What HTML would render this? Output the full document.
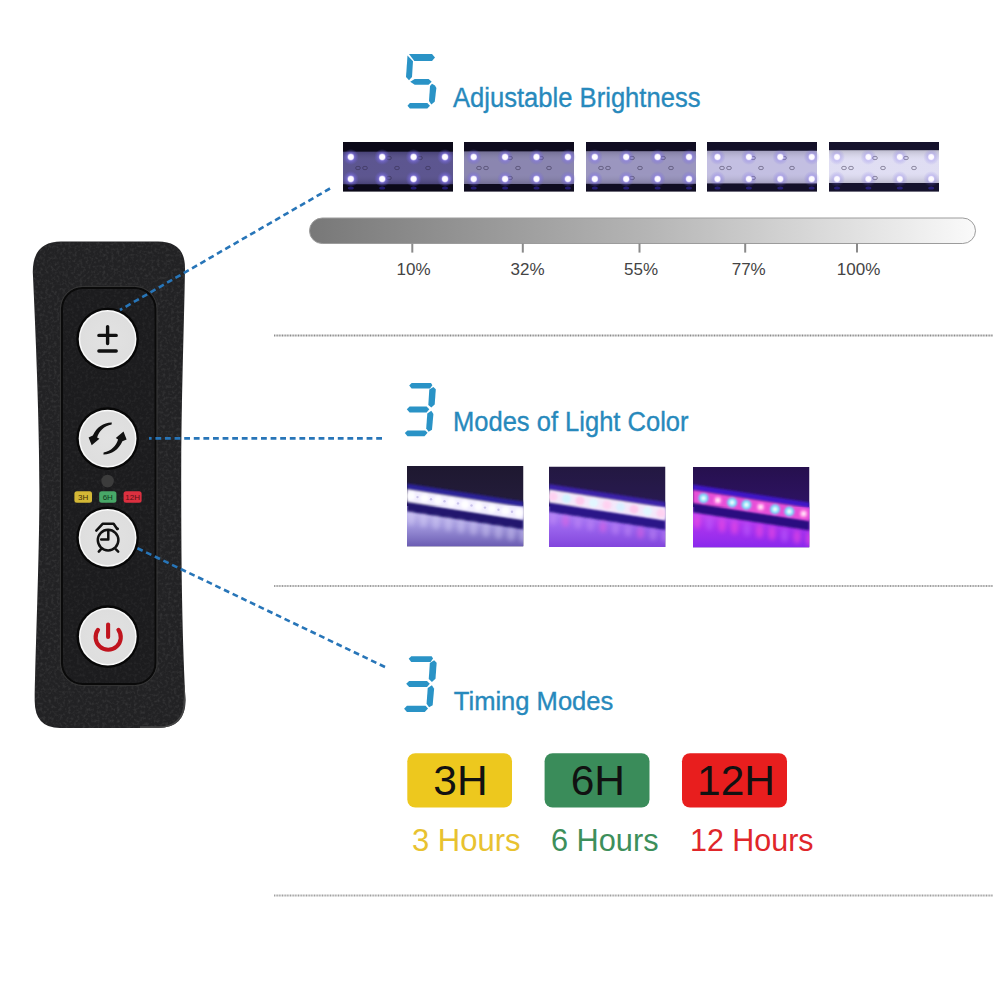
<!DOCTYPE html>
<html><head><meta charset="utf-8">
<style>
html,body{margin:0;padding:0;background:#fff;width:1000px;height:1000px;overflow:hidden}
svg{display:block}
text{font-family:"Liberation Sans",sans-serif}
</style></head>
<body>
<svg width="1000" height="1000" viewBox="0 0 1000 1000">
<defs>
  <linearGradient id="barg" x1="0" x2="1" y1="0" y2="0">
    <stop offset="0" stop-color="#787878"/>
    <stop offset="0.5" stop-color="#b4b4b4"/>
    <stop offset="1" stop-color="#fafafa"/>
  </linearGradient>
  <radialGradient id="ledhalo" cx="0.5" cy="0.5" r="0.5">
    <stop offset="0" stop-color="#b8b0ff"/>
    <stop offset="0.4" stop-color="#8a7cf0" stop-opacity="0.8"/>
    <stop offset="1" stop-color="#6a5ce0" stop-opacity="0"/>
  </radialGradient>
  <radialGradient id="ledcore" cx="0.5" cy="0.5" r="0.5">
    <stop offset="0" stop-color="#ffffff"/>
    <stop offset="0.7" stop-color="#fbf8ff"/>
    <stop offset="1" stop-color="#e0d8ff" stop-opacity="0.6"/>
  </radialGradient>
  <radialGradient id="led" cx="0.5" cy="0.5" r="0.5">
    <stop offset="0" stop-color="#ffffff"/>
    <stop offset="0.45" stop-color="#f4f0ff"/>
    <stop offset="0.7" stop-color="#a89cf0" stop-opacity="0.6"/>
    <stop offset="1" stop-color="#8070e0" stop-opacity="0"/>
  </radialGradient>
  <linearGradient id="stripshade" x1="0" x2="0" y1="0" y2="1">
    <stop offset="0" stop-color="#000" stop-opacity="0.15"/>
    <stop offset="0.3" stop-color="#fff" stop-opacity="0.05"/>
    <stop offset="0.7" stop-color="#fff" stop-opacity="0.05"/>
    <stop offset="1" stop-color="#000" stop-opacity="0.15"/>
  </linearGradient>
  <linearGradient id="glow1" x1="0" x2="0" y1="0" y2="1">
    <stop offset="0" stop-color="#d0c8f6"/>
    <stop offset="0.5" stop-color="#a096dc"/>
    <stop offset="1" stop-color="#6a5cb2"/>
  </linearGradient>
  <linearGradient id="glow2" x1="0" x2="0" y1="0" y2="1">
    <stop offset="0" stop-color="#b68cf6"/>
    <stop offset="0.5" stop-color="#9c66ee"/>
    <stop offset="1" stop-color="#8246dc"/>
  </linearGradient>
  <linearGradient id="glow3" x1="0" x2="0" y1="0" y2="1">
    <stop offset="0" stop-color="#d050f2"/>
    <stop offset="0.5" stop-color="#aa34ee"/>
    <stop offset="1" stop-color="#8a28ec"/>
  </linearGradient>
  <linearGradient id="top1" x1="0" x2="0" y1="0" y2="1">
    <stop offset="0" stop-color="#1e1830"/>
    <stop offset="1" stop-color="#2a2148"/>
  </linearGradient>
  <linearGradient id="top2" x1="0" x2="0" y1="0" y2="1">
    <stop offset="0" stop-color="#231841"/>
    <stop offset="1" stop-color="#2e1c62"/>
  </linearGradient>
  <linearGradient id="top3" x1="0" x2="0" y1="0" y2="1">
    <stop offset="0" stop-color="#26104e"/>
    <stop offset="1" stop-color="#36167a"/>
  </linearGradient>
  <filter id="blur1" x="-20%" y="-20%" width="140%" height="140%"><feGaussianBlur stdDeviation="1"/></filter>
  <filter id="blur2" x="-50%" y="-50%" width="200%" height="200%"><feGaussianBlur stdDeviation="2"/></filter>
  <clipPath id="c1"><rect x="0" y="0" width="116.5" height="80.5"/></clipPath>
  <radialGradient id="btn" cx="0.5" cy="0.5" r="0.5">
    <stop offset="0" stop-color="#e2e2e2"/>
    <stop offset="1" stop-color="#dedede"/>
  </radialGradient>
  <filter id="noise" x="0" y="0" width="100%" height="100%">
    <feTurbulence type="fractalNoise" baseFrequency="0.35" numOctaves="2" seed="7" result="t"/>
    <feColorMatrix in="t" type="matrix" values="0 0 0 0 0.23  0 0 0 0 0.23  0 0 0 0 0.23  0 0 0 -2.2 1.25"/>
  </filter>
  <clipPath id="rclip"><use href="#rbody"/></clipPath>
  <clipPath id="pclip"><rect x="63" y="289" width="91.5" height="394" rx="20"/></clipPath>
</defs>

<!-- separators -->
<line x1="274" y1="335.5" x2="993" y2="335.5" stroke="#8c8c8c" stroke-width="2" stroke-dasharray="1 0.6"/>
<line x1="274" y1="586" x2="993" y2="586" stroke="#a0a0a0" stroke-width="2" stroke-dasharray="1 0.6"/>
<line x1="274" y1="895.5" x2="993" y2="895.5" stroke="#a0a0a0" stroke-width="2" stroke-dasharray="1 0.6"/>

<!-- REMOTE -->
<path id="rbody" d="M61,241.5 L158,241.5 Q185,241.5 185,268 C184,330 181.2,400 181.2,480 C181.2,580 182.5,640 185.5,700 Q185.5,728 158,728 L60,728 Q34.7,728 34.7,701 C35,660 39.4,560 39.4,490 C39.4,420 35.5,330 32.8,272 Q32.8,241.5 61,241.5 Z" fill="#222224"/>
<rect x="0" y="240" width="190" height="490" fill="#000" filter="url(#noise)" clip-path="url(#rclip)" opacity="0.2"/>
<!-- bevel bottom-right -->
<path d="M185.5,685 L185.5,700 Q185.5,728 158,728 L140,728" fill="none" stroke="#4a4a4a" stroke-width="3.4" opacity="0.85" clip-path="url(#rclip)"/>
<!-- inner panel -->
<rect x="62" y="288" width="93.5" height="396" rx="21" fill="#1c1c1e" stroke="#0a0a0a" stroke-width="2"/>
<rect x="60.4" y="286.4" width="96.7" height="399.2" rx="22.5" fill="none" stroke="#363636" stroke-width="1"/>
<rect x="60" y="285" width="100" height="402" fill="#000" filter="url(#noise)" clip-path="url(#pclip)" opacity="0.12"/>

<!-- buttons -->
<g>
  <circle cx="107.6" cy="339" r="31.3" fill="#070707"/>
  <circle cx="107.6" cy="339" r="28.9" fill="#fafafa"/>
  <circle cx="107.6" cy="339" r="27.4" fill="url(#btn)"/>
  <circle cx="107.6" cy="438.6" r="31.3" fill="#070707"/>
  <circle cx="107.6" cy="438.6" r="28.9" fill="#fafafa"/>
  <circle cx="107.6" cy="438.6" r="27.4" fill="url(#btn)"/>
  <circle cx="107.6" cy="537.8" r="31.3" fill="#070707"/>
  <circle cx="107.6" cy="537.8" r="28.9" fill="#fafafa"/>
  <circle cx="107.6" cy="537.8" r="27.4" fill="url(#btn)"/>
  <circle cx="107.8" cy="636.6" r="31.3" fill="#070707"/>
  <circle cx="107.8" cy="636.6" r="28.9" fill="#fafafa"/>
  <circle cx="107.8" cy="636.6" r="27.4" fill="url(#btn)"/>
</g>
<!-- plus/minus -->
<g stroke="#111" stroke-width="3.4" stroke-linecap="round" fill="none">
  <path d="M98.9,335.4 L116.2,335.4 M107.6,326.6 L107.6,343.6 M98.9,351 L116.2,351"/>
</g>
<!-- refresh icon -->
<g fill="#111">
  <path id="arrU" d="M111.8,422.4 C104,422.2 96.5,427 92.8,435.6 L88.6,437.4 L91.7,445.3 L99.4,438.7 L97.1,437.4 C99,431 104,425.9 111.6,424.4 Z"/>
  <use href="#arrU" transform="rotate(180 107.6 438.4)"/>
</g>
<!-- clock icon -->
<g fill="none" stroke="#111" stroke-width="2.5" stroke-linecap="round" stroke-linejoin="round">
  <circle cx="108.1" cy="540.1" r="10.3"/>
  <path d="M96.3,530.6 L102.6,523.8 L113.6,523.8 L117.2,529"/>
  <path d="M108.3,530.5 L108.3,539.6 L101.2,539.6"/>
  <path d="M100.8,549.4 L98.8,551.6 M116,549.4 L118.2,551.6"/>
  <circle cx="117.6" cy="528.8" r="1.4" fill="#111" stroke="none"/>
</g>
<!-- power icon -->
<g fill="none" stroke="#c0141e" stroke-width="4.1" stroke-linecap="round">
  <path d="M98,629.8 A12.6,12.6 0 1 0 118.4,629.8"/>
  <path d="M108.1,624.6 L108.1,637"/>
</g>

<!-- LED dot + labels -->
<circle cx="107.6" cy="481" r="6.3" fill="#3c3c3c"/>
<rect x="74.4" y="491.2" width="17.6" height="11.6" rx="2.5" fill="#d4b836"/>
<rect x="99.2" y="491.2" width="17.2" height="11.6" rx="2.5" fill="#48a868"/>
<rect x="123.6" y="491.2" width="18" height="11.6" rx="2.5" fill="#dc3040"/>
<g font-size="8" fill="#2a2000">
  <text x="83.2" y="500" text-anchor="middle" fill="#3a2e08">3H</text>
  <text x="107.8" y="500" text-anchor="middle" fill="#0f3a1c">6H</text>
  <text x="132.6" y="500" text-anchor="middle" fill="#5a1014">12H</text>
</g>

<!-- blue dashed lines -->
<g stroke="#2775b8" stroke-width="2.6" stroke-dasharray="5.8 3.8" fill="none">
  <line x1="330" y1="188.5" x2="120" y2="310"/>
  <line x1="382" y1="438.4" x2="149" y2="438.4"/>
  <line x1="385" y1="667" x2="137.4" y2="548.2"/>
</g>

<!-- SECTION 1 -->
<g fill="#2a93c6">
  <polygon points="409,54.1 432,54.1 435,57.5 432,60.9 414.3,60.9"/>
  <polygon points="407.5,55.5 413,61.3 412,77 409,80.3 406,77"/>
  <polygon points="410.2,81.7 414.7,79 428.6,79 431.7,81.7 428.6,84.7 414.7,84.7"/>
  <polygon points="432,83.7 435,85.4 436.4,88.1 434.7,101.7 431.3,104.5 429,101 430,86"/>
  <polygon points="407.5,105.8 409.9,103.1 427.3,103.1 430,105.8 427.3,108.5 409.9,108.5"/>
</g>
<text x="453" y="107" font-size="27" fill="#2789bc" stroke="#2789bc" stroke-width="0.35" textLength="247.5" lengthAdjust="spacingAndGlyphs">Adjustable Brightness</text>

<!-- strips -->
<g id="strips">
<g transform="translate(343,142)">
<rect x="0" y="0" width="110" height="49.6" fill="#0b0918"/>
<rect x="0" y="9.7" width="110" height="32.5" fill="#544d8a"/>
<rect x="0" y="9.7" width="110" height="32.5" fill="url(#stripshade)"/>
<ellipse cx="22" cy="26" rx="2.4" ry="1.7" fill="none" stroke="#2a2440" stroke-width="0.9" opacity="0.5"/>
<ellipse cx="54" cy="26" rx="2.4" ry="1.7" fill="none" stroke="#2a2440" stroke-width="0.9" opacity="0.5"/>
<ellipse cx="85" cy="26" rx="2.4" ry="1.7" fill="none" stroke="#2a2440" stroke-width="0.9" opacity="0.5"/>
<ellipse cx="46" cy="16" rx="2.4" ry="1.7" fill="none" stroke="#2a2440" stroke-width="0.9" opacity="0.5"/>
<ellipse cx="46" cy="36" rx="2.4" ry="1.7" fill="none" stroke="#2a2440" stroke-width="0.9" opacity="0.5"/>
<ellipse cx="77" cy="16" rx="2.4" ry="1.7" fill="none" stroke="#2a2440" stroke-width="0.9" opacity="0.5"/>
<ellipse cx="15" cy="26" rx="2.4" ry="1.7" fill="none" stroke="#2a2440" stroke-width="0.9" opacity="0.5"/>
<circle cx="7.8" cy="15" r="8" fill="url(#ledhalo)" opacity="0.85"/>
<circle cx="7.8" cy="15" r="3.4" fill="url(#ledcore)"/>
<circle cx="7.8" cy="37" r="8" fill="url(#ledhalo)" opacity="0.85"/>
<circle cx="7.8" cy="37" r="3.4" fill="url(#ledcore)"/>
<ellipse cx="7.8" cy="46" rx="3" ry="1.6" fill="#3a2cc0" opacity="0.5"/>
<circle cx="39.2" cy="15" r="8" fill="url(#ledhalo)" opacity="0.85"/>
<circle cx="39.2" cy="15" r="3.4" fill="url(#ledcore)"/>
<circle cx="39.2" cy="37" r="8" fill="url(#ledhalo)" opacity="0.85"/>
<circle cx="39.2" cy="37" r="3.4" fill="url(#ledcore)"/>
<ellipse cx="39.2" cy="46" rx="3" ry="1.6" fill="#3a2cc0" opacity="0.5"/>
<circle cx="70.6" cy="15" r="8" fill="url(#ledhalo)" opacity="0.85"/>
<circle cx="70.6" cy="15" r="3.4" fill="url(#ledcore)"/>
<circle cx="70.6" cy="37" r="8" fill="url(#ledhalo)" opacity="0.85"/>
<circle cx="70.6" cy="37" r="3.4" fill="url(#ledcore)"/>
<ellipse cx="70.6" cy="46" rx="3" ry="1.6" fill="#3a2cc0" opacity="0.5"/>
<circle cx="102.0" cy="15" r="8" fill="url(#ledhalo)" opacity="0.85"/>
<circle cx="102.0" cy="15" r="3.4" fill="url(#ledcore)"/>
<circle cx="102.0" cy="37" r="8" fill="url(#ledhalo)" opacity="0.85"/>
<circle cx="102.0" cy="37" r="3.4" fill="url(#ledcore)"/>
<ellipse cx="102.0" cy="46" rx="3" ry="1.6" fill="#3a2cc0" opacity="0.5"/>
</g>
<g transform="translate(464,142)">
<rect x="0" y="0" width="110" height="49.6" fill="#0e0b1e"/>
<rect x="0" y="9.4" width="110" height="32.6" fill="#8580ac"/>
<rect x="0" y="9.4" width="110" height="32.6" fill="url(#stripshade)"/>
<ellipse cx="22" cy="26" rx="2.4" ry="1.7" fill="none" stroke="#2a2440" stroke-width="0.9" opacity="0.5"/>
<ellipse cx="54" cy="26" rx="2.4" ry="1.7" fill="none" stroke="#2a2440" stroke-width="0.9" opacity="0.5"/>
<ellipse cx="85" cy="26" rx="2.4" ry="1.7" fill="none" stroke="#2a2440" stroke-width="0.9" opacity="0.5"/>
<ellipse cx="46" cy="16" rx="2.4" ry="1.7" fill="none" stroke="#2a2440" stroke-width="0.9" opacity="0.5"/>
<ellipse cx="46" cy="36" rx="2.4" ry="1.7" fill="none" stroke="#2a2440" stroke-width="0.9" opacity="0.5"/>
<ellipse cx="77" cy="16" rx="2.4" ry="1.7" fill="none" stroke="#2a2440" stroke-width="0.9" opacity="0.5"/>
<ellipse cx="15" cy="26" rx="2.4" ry="1.7" fill="none" stroke="#2a2440" stroke-width="0.9" opacity="0.5"/>
<circle cx="9.7" cy="15" r="8" fill="url(#ledhalo)" opacity="0.75"/>
<circle cx="9.7" cy="15" r="3.4" fill="url(#ledcore)"/>
<circle cx="9.7" cy="37" r="8" fill="url(#ledhalo)" opacity="0.75"/>
<circle cx="9.7" cy="37" r="3.4" fill="url(#ledcore)"/>
<ellipse cx="9.7" cy="46" rx="3" ry="1.6" fill="#3a2cc0" opacity="0.5"/>
<circle cx="41.1" cy="15" r="8" fill="url(#ledhalo)" opacity="0.75"/>
<circle cx="41.1" cy="15" r="3.4" fill="url(#ledcore)"/>
<circle cx="41.1" cy="37" r="8" fill="url(#ledhalo)" opacity="0.75"/>
<circle cx="41.1" cy="37" r="3.4" fill="url(#ledcore)"/>
<ellipse cx="41.1" cy="46" rx="3" ry="1.6" fill="#3a2cc0" opacity="0.5"/>
<circle cx="72.5" cy="15" r="8" fill="url(#ledhalo)" opacity="0.75"/>
<circle cx="72.5" cy="15" r="3.4" fill="url(#ledcore)"/>
<circle cx="72.5" cy="37" r="8" fill="url(#ledhalo)" opacity="0.75"/>
<circle cx="72.5" cy="37" r="3.4" fill="url(#ledcore)"/>
<ellipse cx="72.5" cy="46" rx="3" ry="1.6" fill="#3a2cc0" opacity="0.5"/>
<circle cx="103.9" cy="15" r="8" fill="url(#ledhalo)" opacity="0.75"/>
<circle cx="103.9" cy="15" r="3.4" fill="url(#ledcore)"/>
<circle cx="103.9" cy="37" r="8" fill="url(#ledhalo)" opacity="0.75"/>
<circle cx="103.9" cy="37" r="3.4" fill="url(#ledcore)"/>
<ellipse cx="103.9" cy="46" rx="3" ry="1.6" fill="#3a2cc0" opacity="0.5"/>
</g>
<g transform="translate(586,142)">
<rect x="0" y="0" width="110" height="49.6" fill="#100d22"/>
<rect x="0" y="9.2" width="110" height="32.6" fill="#9691bc"/>
<rect x="0" y="9.2" width="110" height="32.6" fill="url(#stripshade)"/>
<ellipse cx="22" cy="26" rx="2.4" ry="1.7" fill="none" stroke="#2a2440" stroke-width="0.9" opacity="0.5"/>
<ellipse cx="54" cy="26" rx="2.4" ry="1.7" fill="none" stroke="#2a2440" stroke-width="0.9" opacity="0.5"/>
<ellipse cx="85" cy="26" rx="2.4" ry="1.7" fill="none" stroke="#2a2440" stroke-width="0.9" opacity="0.5"/>
<ellipse cx="46" cy="16" rx="2.4" ry="1.7" fill="none" stroke="#2a2440" stroke-width="0.9" opacity="0.5"/>
<ellipse cx="46" cy="36" rx="2.4" ry="1.7" fill="none" stroke="#2a2440" stroke-width="0.9" opacity="0.5"/>
<ellipse cx="77" cy="16" rx="2.4" ry="1.7" fill="none" stroke="#2a2440" stroke-width="0.9" opacity="0.5"/>
<ellipse cx="15" cy="26" rx="2.4" ry="1.7" fill="none" stroke="#2a2440" stroke-width="0.9" opacity="0.5"/>
<circle cx="8.8" cy="15" r="8" fill="url(#ledhalo)" opacity="0.7"/>
<circle cx="8.8" cy="15" r="3.4" fill="url(#ledcore)"/>
<circle cx="8.8" cy="37" r="8" fill="url(#ledhalo)" opacity="0.7"/>
<circle cx="8.8" cy="37" r="3.4" fill="url(#ledcore)"/>
<ellipse cx="8.8" cy="46" rx="3" ry="1.6" fill="#3a2cc0" opacity="0.5"/>
<circle cx="40.2" cy="15" r="8" fill="url(#ledhalo)" opacity="0.7"/>
<circle cx="40.2" cy="15" r="3.4" fill="url(#ledcore)"/>
<circle cx="40.2" cy="37" r="8" fill="url(#ledhalo)" opacity="0.7"/>
<circle cx="40.2" cy="37" r="3.4" fill="url(#ledcore)"/>
<ellipse cx="40.2" cy="46" rx="3" ry="1.6" fill="#3a2cc0" opacity="0.5"/>
<circle cx="71.6" cy="15" r="8" fill="url(#ledhalo)" opacity="0.7"/>
<circle cx="71.6" cy="15" r="3.4" fill="url(#ledcore)"/>
<circle cx="71.6" cy="37" r="8" fill="url(#ledhalo)" opacity="0.7"/>
<circle cx="71.6" cy="37" r="3.4" fill="url(#ledcore)"/>
<ellipse cx="71.6" cy="46" rx="3" ry="1.6" fill="#3a2cc0" opacity="0.5"/>
<circle cx="103.0" cy="15" r="8" fill="url(#ledhalo)" opacity="0.7"/>
<circle cx="103.0" cy="15" r="3.4" fill="url(#ledcore)"/>
<circle cx="103.0" cy="37" r="8" fill="url(#ledhalo)" opacity="0.7"/>
<circle cx="103.0" cy="37" r="3.4" fill="url(#ledcore)"/>
<ellipse cx="103.0" cy="46" rx="3" ry="1.6" fill="#3a2cc0" opacity="0.5"/>
</g>
<g transform="translate(707,142)">
<rect x="0" y="0" width="110" height="49.6" fill="#131028"/>
<rect x="0" y="8.8" width="110" height="32.6" fill="#c0bce0"/>
<rect x="0" y="8.8" width="110" height="32.6" fill="url(#stripshade)"/>
<ellipse cx="22" cy="26" rx="2.4" ry="1.7" fill="none" stroke="#2a2440" stroke-width="0.9" opacity="0.5"/>
<ellipse cx="54" cy="26" rx="2.4" ry="1.7" fill="none" stroke="#2a2440" stroke-width="0.9" opacity="0.5"/>
<ellipse cx="85" cy="26" rx="2.4" ry="1.7" fill="none" stroke="#2a2440" stroke-width="0.9" opacity="0.5"/>
<ellipse cx="46" cy="16" rx="2.4" ry="1.7" fill="none" stroke="#2a2440" stroke-width="0.9" opacity="0.5"/>
<ellipse cx="46" cy="36" rx="2.4" ry="1.7" fill="none" stroke="#2a2440" stroke-width="0.9" opacity="0.5"/>
<ellipse cx="77" cy="16" rx="2.4" ry="1.7" fill="none" stroke="#2a2440" stroke-width="0.9" opacity="0.5"/>
<ellipse cx="15" cy="26" rx="2.4" ry="1.7" fill="none" stroke="#2a2440" stroke-width="0.9" opacity="0.5"/>
<circle cx="10.5" cy="15" r="8" fill="url(#ledhalo)" opacity="0.5"/>
<circle cx="10.5" cy="15" r="3.4" fill="url(#ledcore)"/>
<circle cx="10.5" cy="37" r="8" fill="url(#ledhalo)" opacity="0.5"/>
<circle cx="10.5" cy="37" r="3.4" fill="url(#ledcore)"/>
<ellipse cx="10.5" cy="46" rx="3" ry="1.6" fill="#3a2cc0" opacity="0.5"/>
<circle cx="41.9" cy="15" r="8" fill="url(#ledhalo)" opacity="0.5"/>
<circle cx="41.9" cy="15" r="3.4" fill="url(#ledcore)"/>
<circle cx="41.9" cy="37" r="8" fill="url(#ledhalo)" opacity="0.5"/>
<circle cx="41.9" cy="37" r="3.4" fill="url(#ledcore)"/>
<ellipse cx="41.9" cy="46" rx="3" ry="1.6" fill="#3a2cc0" opacity="0.5"/>
<circle cx="73.3" cy="15" r="8" fill="url(#ledhalo)" opacity="0.5"/>
<circle cx="73.3" cy="15" r="3.4" fill="url(#ledcore)"/>
<circle cx="73.3" cy="37" r="8" fill="url(#ledhalo)" opacity="0.5"/>
<circle cx="73.3" cy="37" r="3.4" fill="url(#ledcore)"/>
<ellipse cx="73.3" cy="46" rx="3" ry="1.6" fill="#3a2cc0" opacity="0.5"/>
<circle cx="104.7" cy="15" r="8" fill="url(#ledhalo)" opacity="0.5"/>
<circle cx="104.7" cy="15" r="3.4" fill="url(#ledcore)"/>
<circle cx="104.7" cy="37" r="8" fill="url(#ledhalo)" opacity="0.5"/>
<circle cx="104.7" cy="37" r="3.4" fill="url(#ledcore)"/>
<ellipse cx="104.7" cy="46" rx="3" ry="1.6" fill="#3a2cc0" opacity="0.5"/>
</g>
<g transform="translate(829,142)">
<rect x="0" y="0" width="110" height="49.6" fill="#15122c"/>
<rect x="0" y="8.2" width="110" height="32.8" fill="#dedcf2"/>
<rect x="0" y="8.2" width="110" height="32.8" fill="url(#stripshade)"/>
<ellipse cx="22" cy="26" rx="2.4" ry="1.7" fill="none" stroke="#2a2440" stroke-width="0.9" opacity="0.5"/>
<ellipse cx="54" cy="26" rx="2.4" ry="1.7" fill="none" stroke="#2a2440" stroke-width="0.9" opacity="0.5"/>
<ellipse cx="85" cy="26" rx="2.4" ry="1.7" fill="none" stroke="#2a2440" stroke-width="0.9" opacity="0.5"/>
<ellipse cx="46" cy="16" rx="2.4" ry="1.7" fill="none" stroke="#2a2440" stroke-width="0.9" opacity="0.5"/>
<ellipse cx="46" cy="36" rx="2.4" ry="1.7" fill="none" stroke="#2a2440" stroke-width="0.9" opacity="0.5"/>
<ellipse cx="77" cy="16" rx="2.4" ry="1.7" fill="none" stroke="#2a2440" stroke-width="0.9" opacity="0.5"/>
<ellipse cx="15" cy="26" rx="2.4" ry="1.7" fill="none" stroke="#2a2440" stroke-width="0.9" opacity="0.5"/>
<circle cx="8.0" cy="15" r="8" fill="url(#ledhalo)" opacity="0.4"/>
<circle cx="8.0" cy="15" r="3.4" fill="url(#ledcore)"/>
<circle cx="8.0" cy="37" r="8" fill="url(#ledhalo)" opacity="0.4"/>
<circle cx="8.0" cy="37" r="3.4" fill="url(#ledcore)"/>
<ellipse cx="8.0" cy="46" rx="3" ry="1.6" fill="#3a2cc0" opacity="0.5"/>
<circle cx="39.4" cy="15" r="8" fill="url(#ledhalo)" opacity="0.4"/>
<circle cx="39.4" cy="15" r="3.4" fill="url(#ledcore)"/>
<circle cx="39.4" cy="37" r="8" fill="url(#ledhalo)" opacity="0.4"/>
<circle cx="39.4" cy="37" r="3.4" fill="url(#ledcore)"/>
<ellipse cx="39.4" cy="46" rx="3" ry="1.6" fill="#3a2cc0" opacity="0.5"/>
<circle cx="70.8" cy="15" r="8" fill="url(#ledhalo)" opacity="0.4"/>
<circle cx="70.8" cy="15" r="3.4" fill="url(#ledcore)"/>
<circle cx="70.8" cy="37" r="8" fill="url(#ledhalo)" opacity="0.4"/>
<circle cx="70.8" cy="37" r="3.4" fill="url(#ledcore)"/>
<ellipse cx="70.8" cy="46" rx="3" ry="1.6" fill="#3a2cc0" opacity="0.5"/>
<circle cx="102.2" cy="15" r="8" fill="url(#ledhalo)" opacity="0.4"/>
<circle cx="102.2" cy="15" r="3.4" fill="url(#ledcore)"/>
<circle cx="102.2" cy="37" r="8" fill="url(#ledhalo)" opacity="0.4"/>
<circle cx="102.2" cy="37" r="3.4" fill="url(#ledcore)"/>
<ellipse cx="102.2" cy="46" rx="3" ry="1.6" fill="#3a2cc0" opacity="0.5"/>
</g>
</g>
<!-- /strips -->

<!-- gradient bar -->
<rect x="309.5" y="218" width="666" height="25.5" rx="12.75" fill="url(#barg)" stroke="#9c9c9c" stroke-width="1"/>
<g stroke="#8a8a8a" stroke-width="2">
  <line x1="412.3" y1="243.5" x2="412.3" y2="252.6"/>
  <line x1="522.8" y1="243.5" x2="522.8" y2="252.6"/>
  <line x1="639.5" y1="243.5" x2="639.5" y2="252.6"/>
  <line x1="745.2" y1="243.5" x2="745.2" y2="252.6"/>
  <line x1="857" y1="243.5" x2="857" y2="252.6"/>
</g>
<g font-size="17" fill="#444" text-anchor="middle">
  <text x="413.5" y="275.3">10%</text>
  <text x="527.5" y="275.3">32%</text>
  <text x="641" y="275.3">55%</text>
  <text x="748.7" y="275.3">77%</text>
  <text x="858.6" y="275.3">100%</text>
</g>

<!-- SECTION 2 -->
<g fill="#2a93c6" id="d3a">
  <polygon points="409.2,385.5 411.6,383.1 431,383.1 432.4,385.2 430,388.6 411.6,388.6"/>
  <polygon points="433.4,386.9 435.8,389.3 434.7,404.6 431.3,407.6 428.3,404.9 429.3,389.6"/>
  <polygon points="406.8,409.3 409.6,406.6 426.6,406.6 429.3,409.3 426.6,412.4 409.6,412.4"/>
  <polygon points="431.3,410.7 433.4,414 432,429.7 428.6,431.8 426.2,428.4 427.3,413.4"/>
  <polygon points="404.8,433.1 407.5,430.4 425.2,430.4 427.6,432.8 424.5,436.2 407.5,436.2"/>
</g>
<text x="453" y="431" font-size="27" fill="#2789bc" stroke="#2789bc" stroke-width="0.35" textLength="235.5" lengthAdjust="spacingAndGlyphs">Modes of Light Color</text>

<g id="colorimgs">
<g transform="translate(407,466)" clip-path="url(#c1)">
<rect width="116.5" height="80.5" fill="url(#top1)"/>
<rect y="40" width="116.5" height="40.5" fill="url(#glow1)"/>
<polygon points="0,17.5 116.5,35.557500000000005 116.5,41.557500000000005 0,23.5" fill="#2c2096" filter="url(#blur1)"/>
<polygon points="0,35 116.5,53.057500000000005 116.5,63.557500000000005 0,45.5" fill="#22186e" filter="url(#blur1)"/>
<polygon points="0,23 116.5,41.057500000000005 116.5,54.057500000000005 0,36" fill="#f2eeff" filter="url(#blur1)"/>
<circle cx="4.0" cy="30.12" r="4" fill="#ffffff" opacity="0.9" filter="url(#blur1)"/>
<circle cx="10.5" cy="31.12" r="1.2" fill="#b0a8e0" opacity="0.6"/>
<circle cx="17.5" cy="32.2125" r="4" fill="#ffffff" opacity="0.9" filter="url(#blur1)"/>
<circle cx="24.0" cy="33.2125" r="1.2" fill="#b0a8e0" opacity="0.6"/>
<circle cx="31.0" cy="34.305" r="4" fill="#ffffff" opacity="0.9" filter="url(#blur1)"/>
<circle cx="37.5" cy="35.305" r="1.2" fill="#b0a8e0" opacity="0.6"/>
<circle cx="44.5" cy="36.3975" r="4" fill="#ffffff" opacity="0.9" filter="url(#blur1)"/>
<circle cx="51.0" cy="37.3975" r="1.2" fill="#b0a8e0" opacity="0.6"/>
<circle cx="58.0" cy="38.49" r="4" fill="#ffffff" opacity="0.9" filter="url(#blur1)"/>
<circle cx="64.5" cy="39.49" r="1.2" fill="#b0a8e0" opacity="0.6"/>
<circle cx="71.5" cy="40.582499999999996" r="4" fill="#ffffff" opacity="0.9" filter="url(#blur1)"/>
<circle cx="78.0" cy="41.582499999999996" r="1.2" fill="#b0a8e0" opacity="0.6"/>
<circle cx="85.0" cy="42.675" r="4" fill="#ffffff" opacity="0.9" filter="url(#blur1)"/>
<circle cx="91.5" cy="43.675" r="1.2" fill="#b0a8e0" opacity="0.6"/>
<circle cx="98.5" cy="44.7675" r="4" fill="#ffffff" opacity="0.9" filter="url(#blur1)"/>
<circle cx="105.0" cy="45.7675" r="1.2" fill="#b0a8e0" opacity="0.6"/>
<circle cx="112.0" cy="46.86" r="4" fill="#ffffff" opacity="0.9" filter="url(#blur1)"/>
<circle cx="118.5" cy="47.86" r="1.2" fill="#b0a8e0" opacity="0.6"/>
<ellipse cx="4.0" cy="52.62" rx="4" ry="7" fill="#e6e0ff" opacity="0.35" filter="url(#blur2)"/>
<ellipse cx="16.5" cy="54.5575" rx="4" ry="7" fill="#e6e0ff" opacity="0.35" filter="url(#blur2)"/>
<ellipse cx="29.0" cy="56.495" rx="4" ry="7" fill="#e6e0ff" opacity="0.35" filter="url(#blur2)"/>
<ellipse cx="41.5" cy="58.4325" rx="4" ry="7" fill="#e6e0ff" opacity="0.35" filter="url(#blur2)"/>
<ellipse cx="54.0" cy="60.37" rx="4" ry="7" fill="#e6e0ff" opacity="0.35" filter="url(#blur2)"/>
<ellipse cx="66.5" cy="62.3075" rx="4" ry="7" fill="#e6e0ff" opacity="0.35" filter="url(#blur2)"/>
<ellipse cx="79.0" cy="64.245" rx="4" ry="7" fill="#e6e0ff" opacity="0.35" filter="url(#blur2)"/>
<ellipse cx="91.5" cy="66.1825" rx="4" ry="7" fill="#e6e0ff" opacity="0.35" filter="url(#blur2)"/>
<ellipse cx="104.0" cy="68.12" rx="4" ry="7" fill="#e6e0ff" opacity="0.35" filter="url(#blur2)"/>
<ellipse cx="116.5" cy="70.0575" rx="4" ry="7" fill="#e6e0ff" opacity="0.35" filter="url(#blur2)"/>
</g>
<g transform="translate(549,466.5)" clip-path="url(#c1)">
<rect width="116.5" height="80.5" fill="url(#top2)"/>
<rect y="40" width="116.5" height="40.5" fill="url(#glow2)"/>
<polygon points="0,17.5 116.5,35.557500000000005 116.5,41.557500000000005 0,23.5" fill="#3a20a8" filter="url(#blur1)"/>
<polygon points="0,35 116.5,53.057500000000005 116.5,63.557500000000005 0,45.5" fill="#2c1888" filter="url(#blur1)"/>
<polygon points="0,23 116.5,41.057500000000005 116.5,54.057500000000005 0,36" fill="#f4e8fa" filter="url(#blur1)"/>
<circle cx="4.0" cy="30.12" r="4.5" fill="#ffd0f0" opacity="0.9" filter="url(#blur1)"/>
<circle cx="17.5" cy="32.2125" r="4.5" fill="#d0f4ff" opacity="0.9" filter="url(#blur1)"/>
<circle cx="31.0" cy="34.305" r="4.5" fill="#ffc8ec" opacity="0.9" filter="url(#blur1)"/>
<circle cx="44.5" cy="36.3975" r="4.5" fill="#e0f8ff" opacity="0.9" filter="url(#blur1)"/>
<circle cx="58.0" cy="38.49" r="4.5" fill="#ffd0f0" opacity="0.9" filter="url(#blur1)"/>
<circle cx="71.5" cy="40.582499999999996" r="4.5" fill="#d8f0ff" opacity="0.9" filter="url(#blur1)"/>
<circle cx="85.0" cy="42.675" r="4.5" fill="#ffc8ec" opacity="0.9" filter="url(#blur1)"/>
<circle cx="98.5" cy="44.7675" r="4.5" fill="#e0f8ff" opacity="0.9" filter="url(#blur1)"/>
<circle cx="112.0" cy="46.86" r="4.5" fill="#ffd0f0" opacity="0.9" filter="url(#blur1)"/>
<ellipse cx="4.0" cy="52.62" rx="3.5" ry="6" fill="#c890f8" opacity="0.45" filter="url(#blur2)"/>
<ellipse cx="16.5" cy="54.5575" rx="3.5" ry="6" fill="#f060e0" opacity="0.45" filter="url(#blur2)"/>
<ellipse cx="29.0" cy="56.495" rx="3.5" ry="6" fill="#c890f8" opacity="0.45" filter="url(#blur2)"/>
<ellipse cx="41.5" cy="58.4325" rx="3.5" ry="6" fill="#c890f8" opacity="0.45" filter="url(#blur2)"/>
<ellipse cx="54.0" cy="60.37" rx="3.5" ry="6" fill="#f060e0" opacity="0.45" filter="url(#blur2)"/>
<ellipse cx="66.5" cy="62.3075" rx="3.5" ry="6" fill="#c890f8" opacity="0.45" filter="url(#blur2)"/>
<ellipse cx="79.0" cy="64.245" rx="3.5" ry="6" fill="#c890f8" opacity="0.45" filter="url(#blur2)"/>
<ellipse cx="91.5" cy="66.1825" rx="3.5" ry="6" fill="#f060e0" opacity="0.45" filter="url(#blur2)"/>
<ellipse cx="104.0" cy="68.12" rx="3.5" ry="6" fill="#c890f8" opacity="0.45" filter="url(#blur2)"/>
<ellipse cx="116.5" cy="70.0575" rx="3.5" ry="6" fill="#c890f8" opacity="0.45" filter="url(#blur2)"/>
</g>
<g transform="translate(693,467)" clip-path="url(#c1)">
<rect width="116.5" height="80.5" fill="url(#top3)"/>
<rect y="40" width="116.5" height="40.5" fill="url(#glow3)"/>
<polygon points="0,17.5 116.5,35.557500000000005 116.5,41.557500000000005 0,23.5" fill="#4018c8" filter="url(#blur1)"/>
<polygon points="0,35 116.5,53.057500000000005 116.5,63.557500000000005 0,45.5" fill="#2a0e80" filter="url(#blur1)"/>
<polygon points="0,23 116.5,41.057500000000005 116.5,54.057500000000005 0,36" fill="#e850d8" filter="url(#blur1)"/>
<circle cx="10.5" cy="31.1275" r="5" fill="#78d8f8" filter="url(#blur1)"/>
<circle cx="10.5" cy="31.1275" r="2.5" fill="#e8fcff" filter="url(#blur1)"/>
<circle cx="24.8" cy="33.344" r="4" fill="#ff90e8" filter="url(#blur1)"/>
<circle cx="24.8" cy="33.344" r="2" fill="#fff0fa" filter="url(#blur1)"/>
<circle cx="39.1" cy="35.5605" r="5" fill="#78d8f8" filter="url(#blur1)"/>
<circle cx="39.1" cy="35.5605" r="2.5" fill="#e8fcff" filter="url(#blur1)"/>
<circle cx="53.400000000000006" cy="37.777" r="5" fill="#78d8f8" filter="url(#blur1)"/>
<circle cx="53.400000000000006" cy="37.777" r="2.5" fill="#e8fcff" filter="url(#blur1)"/>
<circle cx="67.7" cy="39.9935" r="4" fill="#ff90e8" filter="url(#blur1)"/>
<circle cx="67.7" cy="39.9935" r="2" fill="#fff0fa" filter="url(#blur1)"/>
<circle cx="82.0" cy="42.21" r="5" fill="#78d8f8" filter="url(#blur1)"/>
<circle cx="82.0" cy="42.21" r="2.5" fill="#e8fcff" filter="url(#blur1)"/>
<circle cx="96.30000000000001" cy="44.426500000000004" r="5" fill="#78d8f8" filter="url(#blur1)"/>
<circle cx="96.30000000000001" cy="44.426500000000004" r="2.5" fill="#e8fcff" filter="url(#blur1)"/>
<circle cx="110.60000000000001" cy="46.643" r="4" fill="#ff90e8" filter="url(#blur1)"/>
<circle cx="110.60000000000001" cy="46.643" r="2" fill="#fff0fa" filter="url(#blur1)"/>
<circle cx="124.9" cy="48.8595" r="5" fill="#78d8f8" filter="url(#blur1)"/>
<circle cx="124.9" cy="48.8595" r="2.5" fill="#e8fcff" filter="url(#blur1)"/>
<ellipse cx="4.0" cy="54.62" rx="3.5" ry="7" fill="#ff50e0" opacity="0.5" filter="url(#blur2)"/>
<ellipse cx="16.5" cy="56.5575" rx="3.5" ry="7" fill="#c060ff" opacity="0.5" filter="url(#blur2)"/>
<ellipse cx="29.0" cy="58.495" rx="3.5" ry="7" fill="#ff50e0" opacity="0.5" filter="url(#blur2)"/>
<ellipse cx="41.5" cy="60.4325" rx="3.5" ry="7" fill="#ff50e0" opacity="0.5" filter="url(#blur2)"/>
<ellipse cx="54.0" cy="62.37" rx="3.5" ry="7" fill="#c060ff" opacity="0.5" filter="url(#blur2)"/>
<ellipse cx="66.5" cy="64.3075" rx="3.5" ry="7" fill="#ff50e0" opacity="0.5" filter="url(#blur2)"/>
<ellipse cx="79.0" cy="66.245" rx="3.5" ry="7" fill="#ff50e0" opacity="0.5" filter="url(#blur2)"/>
<ellipse cx="91.5" cy="68.1825" rx="3.5" ry="7" fill="#c060ff" opacity="0.5" filter="url(#blur2)"/>
<ellipse cx="104.0" cy="70.12" rx="3.5" ry="7" fill="#ff50e0" opacity="0.5" filter="url(#blur2)"/>
<ellipse cx="116.5" cy="72.0575" rx="3.5" ry="7" fill="#ff50e0" opacity="0.5" filter="url(#blur2)"/>
</g>
</g>
<!-- /colorimgs -->

<!-- SECTION 3 -->
<use href="#d3a" transform="matrix(1.05,0,0,1.05,-20.94,253.95)"/>
<text x="453.8" y="710.3" font-size="25.3" fill="#2789bc" stroke="#2789bc" stroke-width="0.35" textLength="159.5" lengthAdjust="spacingAndGlyphs">Timing Modes</text>

<rect x="407.3" y="753.2" width="104.7" height="54.3" rx="8" fill="#edc81e"/>
<rect x="544.6" y="753.2" width="104.9" height="54.3" rx="8" fill="#3a8c5a"/>
<rect x="682" y="753.2" width="105" height="54.3" rx="8" fill="#e81e1e"/>
<g font-size="42.5" fill="#111" text-anchor="middle">
  <text x="460.5" y="794.8">3H</text>
  <text x="597.8" y="794.8">6H</text>
  <text x="736" y="794.8">12H</text>
</g>
<g font-size="31">
  <text x="412" y="851" fill="#e8c230" textLength="108.5" lengthAdjust="spacingAndGlyphs">3 Hours</text>
  <text x="551" y="851" fill="#3d8f5b" textLength="107.5" lengthAdjust="spacingAndGlyphs">6 Hours</text>
  <text x="690" y="851" fill="#e0262a" textLength="123.5" lengthAdjust="spacingAndGlyphs">12 Hours</text>
</g>
</svg>
</body></html>
